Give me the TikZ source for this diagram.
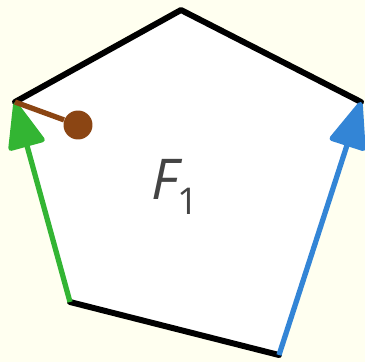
\documentclass[tikz,border=0pt]{standalone}
\usepackage{fontspec}
\setsansfont{Open Sans}
\usepackage{tikz}
\usetikzlibrary{arrows.meta}
\definecolor{bgcream}{RGB}{255,255,240}
\definecolor{forcegreen}{RGB}{51,181,51}
\definecolor{forceblue}{RGB}{51,133,214}
\definecolor{armbrown}{RGB}{139,69,19}
\definecolor{labelgray}{RGB}{68,68,68}
\tikzset{
  edge/.style={line width=3.4pt, line cap=round, line join=round},
  force/.style={line width=3pt, -{Triangle[length=29pt, width=22pt, round]}},
  arm/.style={armbrown, line width=3pt},
  pin/.style={circle, fill=armbrown, minimum size=16.5pt, inner sep=0pt}
}

\begin{document}
\begin{tikzpicture}[x=0.02cm, y=-0.02cm]
		\fill[bgcream] (0,0) rectangle (365,362);
		\useasboundingbox (0,0) rectangle (365,362);
		\coordinate (A) at (15,102);
		\coordinate (B) at (181,10);
		\coordinate (C) at (361,102);
		\coordinate (E) at (279,355);
		\coordinate (D) at (70,302);
		\fill[white] (A) -- (B) -- (C) -- (E) -- (D) -- cycle;
		\draw[edge] (A) -- (B) -- (C);
		\draw[edge] (D) -- (E);
		\draw[force, forcegreen] (D) -- (A);
		\draw[force, forceblue] (E) -- (C);
		\node[pin] (P) at (78,125) {};
		\draw[arm] (A) -- (P);
		\node[labelgray, font=\sffamily\fontsize{32}{32}\selectfont] (F) at (175,187) {\itshape F\kern-1pt\raisebox{-9pt}{\fontsize{21}{21}\selectfont\upshape 1}};
	\end{tikzpicture}
\end{document}
